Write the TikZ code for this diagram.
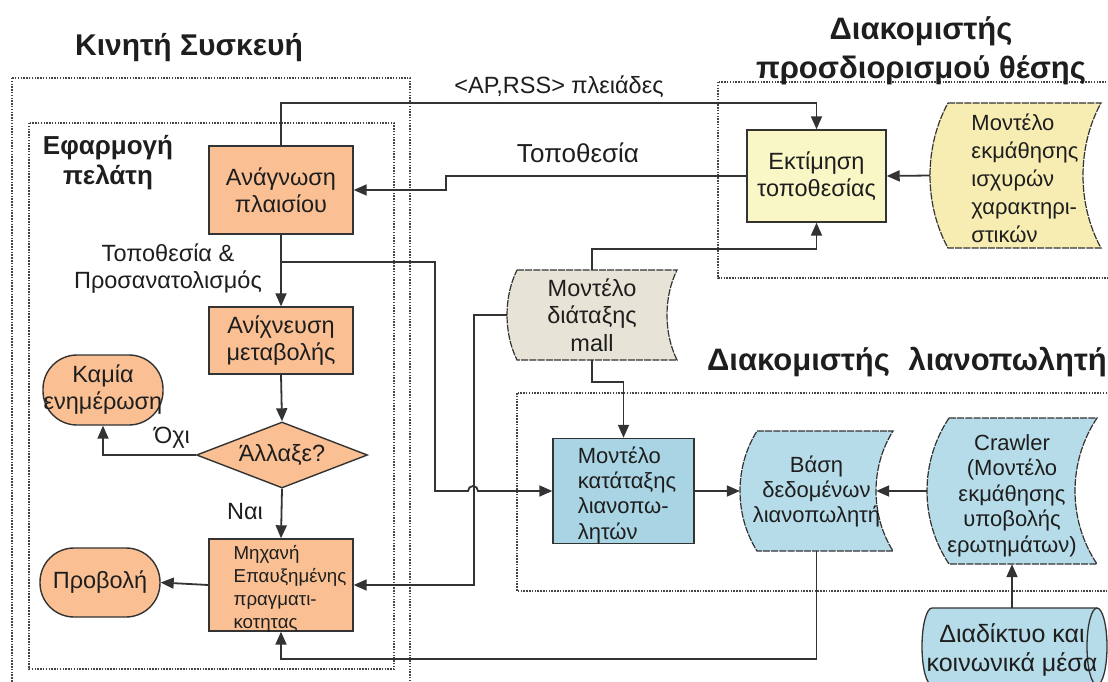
\documentclass[tikz,border=0pt]{standalone}
\usepackage{fontspec}
\setmainfont{Liberation Sans}
\usetikzlibrary{arrows.meta,shapes.geometric,calc}

\definecolor{ink}{HTML}{1E1E1E}
\definecolor{edge}{HTML}{333333}
\definecolor{dots}{HTML}{454545}
\definecolor{orangefill}{HTML}{FAC093}
\definecolor{locfill}{HTML}{FAF7C6}
\definecolor{modelfill}{HTML}{F7EDB2}
\definecolor{mallfill}{HTML}{E7E3D6}
\definecolor{rankfill}{HTML}{A9D4E4}
\definecolor{retfill}{HTML}{B6DCE9}

\newcommand\bodyfont{\fontsize{23.5}{27}\selectfont}
\newcommand\smallbody{\fontsize{22}{25}\selectfont}
\newcommand\titlefont{\bfseries\fontsize{31}{39}\selectfont}
% block of lines: column type, right shift, downward shift, lines
\newcommand\textblock[4]{\hspace*{#2}\raisebox{-#3}[\height][\depth]{\begin{tabular}{@{}#1@{}}#4\end{tabular}}}

% stored-data outline: centre x, centre y, width, height, bulge, fill
\newcommand\sdshape[6]{%
  \draw[sdline, fill=#6] ({#1-#3/2+#5/2},{#2-#4/2}) -- ({#1+#3/2+#5/2},{#2-#4/2})
    .. controls ({#1+#3/2+#5/2-4*#5/3},{#2-0.2*#4}) and ({#1+#3/2+#5/2-4*#5/3},{#2+0.2*#4}) .. ({#1+#3/2+#5/2},{#2+#4/2})
    -- ({#1-#3/2+#5/2},{#2+#4/2})
    .. controls ({#1-#3/2+#5/2-4*#5/3},{#2+0.2*#4}) and ({#1-#3/2+#5/2-4*#5/3},{#2-0.2*#4}) .. cycle;}

\tikzset{
  every node/.append style={inner sep=0pt, text=ink},
  frame/.style={draw=dots, line width=1.4pt, dash pattern=on 1.5pt off 1.3pt},
  conn/.style={draw=edge, line width=1.8pt},
  arr/.style={conn, -{Triangle[length=13pt,width=11pt]}},
  procbox/.style={rectangle, draw=edge, line width=1.4pt, fill=orangefill, align=center, minimum width=144pt, font=\bodyfont},
  termbox/.style={rectangle, rounded corners=34pt, draw=edge, line width=1.4pt, fill=orangefill, align=center, minimum width=120pt, font=\bodyfont},
  sdline/.style={draw=edge, line width=1.2pt, dash pattern=on 7pt off 1.2pt},
  sdtext/.style={rectangle, align=center, font=\bodyfont},
  sdplain/.style={rectangle, font=\bodyfont},
  lbl/.style={font=\bodyfont, align=center},
  heading/.style={font=\titlefont, align=center},
}

\begin{document}
\begin{tikzpicture}[x=1pt,y=-1pt]
\fill[white] (0,0) rectangle (1108,682);
\useasboundingbox (0,0) rectangle (1108,682);
\clip (0,0) rectangle (1108,682);

% dotted frames
\draw[frame] (12,78) rectangle (410,700);
\draw[frame] (29,123) rectangle (394,669);
\draw[frame] (718,82) rectangle (1125,278);
\draw[frame] (517,393) rectangle (1125,591);

% headings
\node[heading, font=\bfseries\fontsize{30}{36}\selectfont] (hmob) at (189,48) {Κινητή Συσκευή};
\node[heading, font=\bfseries\fontsize{26}{30}\selectfont] (happ) at (108,163) {Εφαρμογή\\πελάτη};
\node[heading] (hloc) at (921,51) {Διακομιστής\\προσδιορισμού θέσης};
\node[heading, anchor=east] (hret) at (1107,362) {Διακομιστής\hspace{0.6em}λιανοπωλητή};

% client application
\node[procbox, minimum height=88pt] (an) at (281,190) {Ανάγνωση\\πλαισίου};
\node[procbox, minimum height=67pt] (anx) at (281,340.5) {Ανίχνευση\\μεταβολής};
\node[diamond, draw=edge, line width=1.4pt, fill=orangefill, minimum width=171pt, minimum height=66pt, aspect=2.6, font=\bodyfont] (dia) at (282,455) {Άλλαξε?};
\node[rectangle, draw=edge, line width=1.4pt, fill=orangefill, minimum width=144pt, minimum height=91pt, font=\fontsize{18.7}{23}\selectfont] (ar) at (281,585)
  {\textblock{l}{18pt}{4pt}{Μηχανή\\Επαυξημένης\\πραγματι-\\κοτητας}};
\node[termbox, minimum height=70pt] (kam) at (103,390) {Καμία\\ενημέρωση};
\node[termbox, minimum height=69pt] (prov) at (100,582.5) {Προβολή};

% location server
\node[rectangle, draw=edge, line width=1.4pt, fill=locfill, minimum width=139pt, minimum height=92pt, align=center, font=\bodyfont] (ek) at (816.5,176) {Εκτίμηση\\τοποθεσίας};
\sdshape{1015.5}{175.5}{153}{145}{18}{modelfill}
\node[sdplain, minimum width=153pt, minimum height=145pt, font=\fontsize{22}{28}\selectfont] (ym) at (1015.5,175.5)
  {\textblock{l}{19pt}{5pt}{Μοντέλο\\εκμάθησης\\ισχυρών\\χαρακτηρι-\\στικών}};

% mall layout model
\sdshape{592}{315}{160}{90}{10}{mallfill}
\node[sdtext, minimum width=160pt, minimum height=90pt, font=\fontsize{23.5}{27.5}\selectfont] (mall) at (592,315) {Μοντέλο\\διάταξης\\mall};

% retailer server
\node[rectangle, draw=edge, line width=1.4pt, fill=rankfill, minimum width=141pt, minimum height=105pt, font=\fontsize{22}{25.3}\selectfont] (mk) at (623.5,491)
  {\textblock{l}{7pt}{5pt}{Μοντέλο\\κατάταξης\\λιανοπω-\\λητών}};
\sdshape{816.5}{491}{136}{120}{17}{retfill}
\node[sdtext, minimum width=136pt, minimum height=120pt, font=\smallbody] (vb) at (816.5,491) {Βάση\\δεδομένων\\λιανοπωλητή};
\sdshape{1012}{491}{148}{146}{22}{retfill}
\node[sdplain, minimum width=148pt, minimum height=146pt, font=\fontsize{22}{25.5}\selectfont] (cr) at (1012,491)
  {\textblock{c}{0pt}{5pt}{Crawler\\(Μοντέλο\\εκμάθησης\\υποβολής\\ερωτημάτων)}};

% web and social media store (horizontal cylinder)
\draw[draw=edge, line width=1.3pt, fill=retfill] (932,608) -- (1097,608)
  arc[start angle=90, end angle=-90, x radius=10pt, y radius=38.5pt] -- (932,685)
  arc[start angle=270, end angle=90, x radius=10pt, y radius=38.5pt] -- cycle;
\draw[edge, line width=1.3pt] (1097,608) arc[start angle=90, end angle=270, x radius=10pt, y radius=38.5pt];
\node[sdplain, minimum width=185pt, minimum height=77pt, font=\fontsize{25}{29}\selectfont] (net) at (1012,646.5)
  {\textblock{c}{0pt}{5pt}{Διαδίκτυο και\\κοινωνικά μέσα}};

% connectors
\draw[arr] (an.north) |- ($(ek.north)+(0,-26)$) -- (ek.north);
\draw[arr] (ek.west) -| ($(an.east)+(92,0)$) -- (an.east);
\draw[arr] ($(ym.west)+(-9,0)$) -- (ek.east);
\draw[arr] (an.south) -- (anx.north);
\coordinate (j1) at (an.south |- 0,262);
\draw[arr] (j1) -- (435,262) -- (435,491) -- (468,491)
  arc[start angle=180, end angle=0, radius=5pt] -- (mk.west);
\draw[arr] (anx.south) -- (dia.north);
\draw[arr] (dia.west) -| (kam.south);
\draw[arr] (dia.south) -- (ar.north);
\draw[arr] (ar.west) -- (prov.east);
\draw[arr] ($(mall.west)+(-5,0)$) -| ($(ar.east)+(120,0)$) -- (ar.east);
\draw[arr] (mall.north) |- ($(ek.south)+(0,26)$) -- (ek.south);
\draw[arr] (mall.south) -- ++(0,22) -| (mk.north);
\draw[arr] (mk.east) -- ($(vb.west)+(-8.5,0)$);
\draw[arr] ($(cr.west)+(-11,0)$) -- ($(vb.east)+(-8.5,0)$);
\draw[arr] (vb.south) |- ($(ar.south)+(0,27)$) -- (ar.south);
\draw[arr] (net.north) -- (net.north |- cr.south);

% connector labels
\node[lbl] (lap) at (559,87) {<AP,RSS> πλειάδες};
\node[lbl, font=\fontsize{26}{30}\selectfont] (lloc) at (578,153) {Τοποθεσία};
\node[lbl] (lor) at (168,268.5) {Τοποθεσία \&\\Προσανατολισμός};
\node[lbl] (lno) at (172,438) {Όχι};
\node[lbl] (lyes) at (245,512) {Ναι};
\end{tikzpicture}
\end{document}
